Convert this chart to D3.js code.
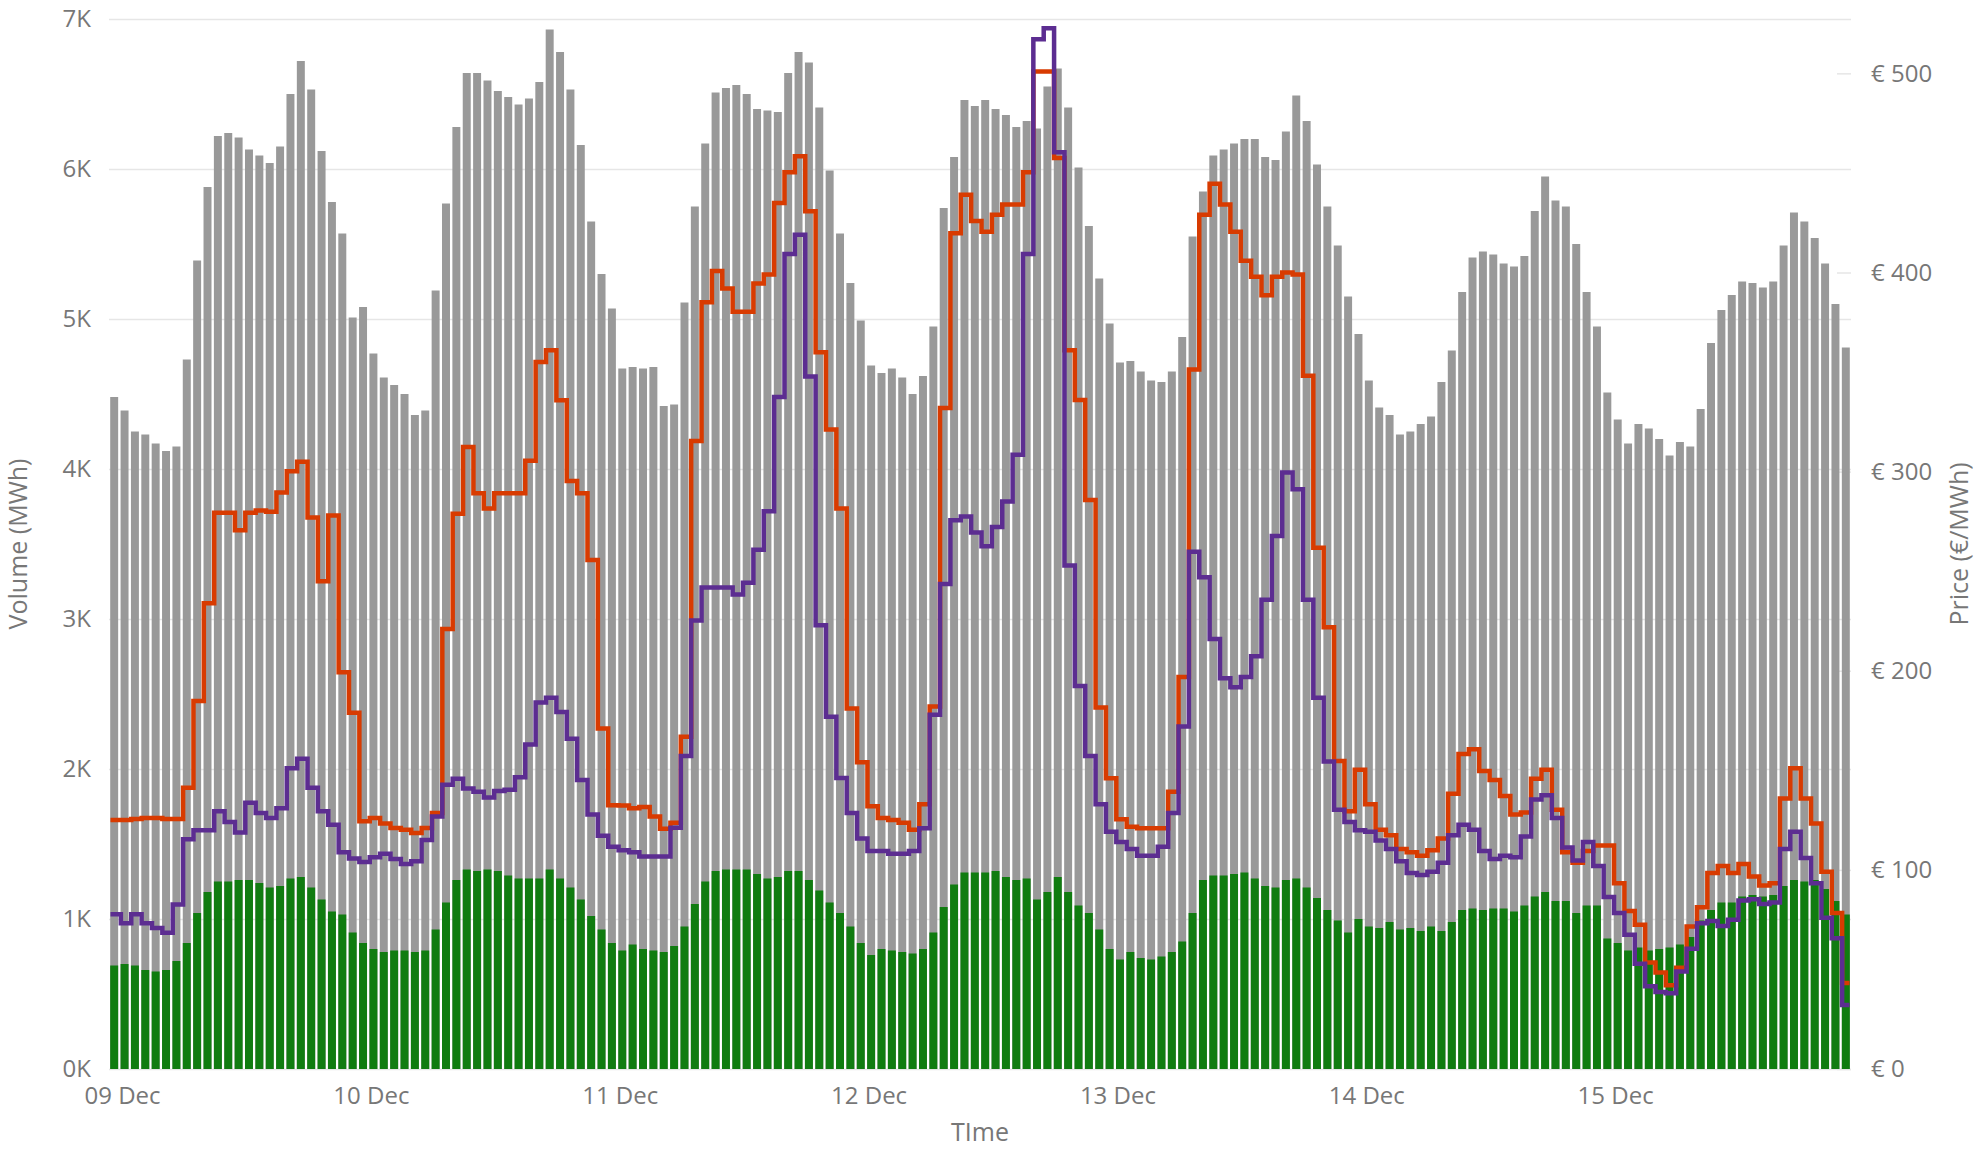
<!DOCTYPE html>
<html>
<head>
<meta charset="utf-8">
<script src="https://cdn.jsdelivr.net/npm/d3@7"></script>
<style>
  html, body { margin: 0; padding: 0; background: #fff; }
  svg { display: block; font-family: "Open Sans", "Noto Sans", sans-serif; }
</style>
</head>
<body>
<svg id="chart" width="1977" height="1150"></svg>
<script>
// ---------------- DATA ----------------
const dayLabels = ["09 Dec", "10 Dec", "11 Dec", "12 Dec", "13 Dec", "14 Dec", "15 Dec"];
const volumeTickLabels = ["0K", "1K", "2K", "3K", "4K", "5K", "6K", "7K"];
const volumeTickValues = [0, 1000, 2000, 3000, 4000, 5000, 6000, 7000];
const priceTickValues = [0, 100, 200, 300, 400, 500];
const priceTickLabels = ["€ 0", "€ 100", "€ 200", "€ 300", "€ 400", "€ 500"];

// hourly total volume (MWh) – grey bars
const volumeTotal = [
  4480, 4390, 4250, 4230, 4170, 4120, 4150, 4730, 5390, 5880, 6220, 6240, 6210, 6130, 6090, 6040, 6150, 6500, 6720, 6530, 6120, 5780, 5570, 5010,
  5080, 4770, 4610, 4560, 4500, 4360, 4390, 5190, 5770, 6280, 6640, 6640, 6590, 6520, 6480, 6430, 6470, 6580, 6930, 6780, 6530, 6160, 5650, 5300,
  5070, 4670, 4680, 4670, 4680, 4420, 4430, 5110, 5750, 6170, 6510, 6540, 6560, 6500, 6400, 6390, 6380, 6640, 6780, 6710, 6410, 5990, 5570, 5240,
  4990, 4690, 4640, 4670, 4610, 4500, 4620, 4950, 5740, 6080, 6460, 6420, 6460, 6400, 6360, 6280, 6320, 6270, 6550, 6670, 6410, 6010, 5620, 5270,
  4970, 4710, 4720, 4650, 4590, 4580, 4650, 4880, 5550, 5850, 6090, 6130, 6170, 6200, 6200, 6080, 6060, 6250, 6490, 6320, 6030, 5750, 5490, 5150,
  4900, 4590, 4410, 4360, 4230, 4250, 4300, 4350, 4580, 4790, 5180, 5410, 5450, 5430, 5370, 5350, 5420, 5720, 5950, 5790, 5750, 5500, 5180, 4950,
  4510, 4330, 4170, 4300, 4270, 4200, 4090, 4180, 4150, 4400, 4840, 5060, 5160, 5250, 5240, 5210, 5250, 5490, 5710, 5650, 5540, 5370, 5100, 4810
];

// hourly green volume (MWh) – green bars
const volumeGreen = [
  690, 700, 690, 660, 650, 660, 720, 840, 1040, 1180, 1250, 1250, 1260, 1260, 1240, 1210, 1220, 1270, 1280, 1210, 1130, 1050, 1030, 910,
  840, 800, 780, 790, 790, 780, 790, 930, 1110, 1260, 1330, 1320, 1330, 1320, 1290, 1270, 1270, 1270, 1330, 1270, 1210, 1130, 1020, 930,
  840, 790, 830, 800, 790, 780, 820, 950, 1100, 1250, 1320, 1330, 1330, 1330, 1300, 1270, 1280, 1320, 1320, 1260, 1190, 1110, 1040, 950,
  840, 760, 800, 790, 780, 770, 800, 910, 1080, 1230, 1310, 1310, 1310, 1320, 1280, 1260, 1270, 1130, 1180, 1280, 1180, 1090, 1040, 930,
  800, 730, 780, 740, 730, 750, 780, 850, 1040, 1260, 1290, 1290, 1300, 1310, 1270, 1220, 1210, 1260, 1270, 1210, 1140, 1060, 990, 910,
  1000, 950, 940, 980, 930, 940, 920, 950, 920, 980, 1060, 1070, 1060, 1070, 1070, 1050, 1090, 1150, 1180, 1120, 1120, 1040, 1090, 1090,
  870, 840, 790, 810, 790, 800, 810, 830, 880, 990, 1060, 1110, 1110, 1150, 1160, 1150, 1160, 1220, 1260, 1250, 1260, 1200, 1120, 1030
];

// hourly price A (€/MWh) – orange step line
const priceOrange = [
  125, 125, 125.5, 126, 126, 125.5, 125.5, 141.3, 184.8, 233.9, 279.4, 279.4, 270.5, 279.4, 280.5, 279.8, 289.5, 300.2, 305, 277, 245, 278, 199.3, 178.9,
  124.4, 126, 123.3, 121, 120.2, 118.5, 121, 128.5, 221, 278.8, 312.3, 289.1, 281.5, 289.1, 289.1, 289.1, 305.4, 355.1, 361, 335.8, 295.3, 289.1, 255.6, 171,
  132.5, 132.3, 131, 131.6, 126.8, 120.6, 123.7, 166.8, 315.4, 385.1, 400.7, 392, 380.3, 380.3, 394.5, 399, 434.9, 450.4, 458.4, 430.7, 359.9, 321.2, 281.5, 181,
  154, 132, 126.1, 125, 123.7, 120.2, 133, 182, 332, 419.7, 439, 425.9, 420.4, 429, 434.2, 434.2, 450.4, 500.9, 500.9, 457.5, 361, 336, 285.7, 181.5,
  146, 125.4, 121.6, 120.9, 120.9, 120.9, 139.2, 196.9, 351.3, 429, 444.6, 434.2, 420.4, 405.9, 397.9, 388.6, 397.9, 400, 399, 348.2, 261.8, 221.8, 154.7, 129.5,
  150.3, 133, 120.2, 117.4, 110.5, 108.8, 107.1, 109.8, 115.7, 138.2, 158.2, 160.6, 149.6, 145.1, 137.1, 127.8, 128.8, 145.8, 150.3, 130.2, 108.8, 103.6, 109.5, 112.3,
  112.3, 93.3, 79.4, 72.5, 53.5, 48.4, 42.1, 50.8, 71.5, 81.2, 98.4, 101.9, 98.4, 102.9, 96.7, 92.2, 93.3, 135.8, 151, 135.8, 123.3, 99.1, 78.4, 43.2
];

// hourly price B (€/MWh) – purple step line
const pricePurple = [
  77.7, 73.2, 77.7, 73.2, 70.8, 68.4, 82.6, 115.4, 119.9, 119.9, 129.5, 124, 118.8, 133.7, 128.5, 126.1, 130.9, 151, 155.8, 141.3, 129.5, 122.6, 108.8, 105.7,
  104, 106.4, 108.1, 105.4, 102.9, 104.3, 115, 126.8, 142.7, 145.8, 140.9, 139.2, 136.4, 139.6, 140.2, 146.5, 163, 184.1, 186.5, 179.3, 165.8, 145.1, 127.8, 117.1,
  111.6, 109.8, 108.8, 106.7, 106.7, 106.7, 121.2, 157.2, 225.2, 241.8, 241.8, 241.8, 238.3, 244.2, 260.8, 280.1, 337.5, 409.3, 419, 347.8, 222.8, 176.9, 146.1, 128.5,
  115.7, 109.5, 109.5, 108.1, 108.1, 109.5, 120.9, 177.9, 243.5, 275.6, 277.4, 269.4, 262.5, 272.2, 285, 308.5, 409.3, 517.1, 522.6, 460.4, 252.8, 192.4, 157.2, 133,
  119.2, 114, 110.5, 107.1, 107.1, 111.6, 128.5, 172, 259.8, 247, 215.9, 196.2, 191.7, 196.9, 207.3, 235.6, 267.7, 299.5, 291.2, 235.6, 186.5, 154.4, 130.2, 124,
  119.9, 119.2, 114.7, 110.5, 104.3, 98.4, 97.4, 99.1, 103.6, 117.4, 122.6, 120.2, 109.5, 105.4, 107.1, 106.4, 116.8, 135.4, 137.5, 126.1, 111.2, 104.7, 114, 101.9,
  86.4, 78.4, 67.4, 52.8, 41.5, 38.7, 38, 49, 60.4, 73.2, 74.3, 71.8, 75, 84.6, 85.3, 82.9, 83.6, 110.5, 119.2, 106, 93.3, 76, 65.6, 32.1
];

// ---------------- DRAWING ----------------
(function draw() {
  const W = 1977, H = 1150;
  const pL = 109, pR = 1851, pT = 19, pB = 1069;
  const colors = { grey: "#999999", green: "#107C10", orange: "#D83B01", purple: "#5C2D91", grid: "#e6e6e6", text: "#777777" };

  const start = new Date(2024, 11, 9, 0, 0, 0);
  const times = volumeTotal.map((_, i) => d3.timeHour.offset(start, i));
  const end = d3.timeHour.offset(start, volumeTotal.length);

  const x = d3.scaleTime().domain([start, end]).range([pL, pR]);
  const yL = d3.scaleLinear().domain([0, 7000]).range([pB, pT]);
  const yR = d3.scaleLinear().domain([0, 527.3]).range([pB, pT]);

  const svg = d3.select("#chart");
  svg.append("rect").attr("width", W).attr("height", H).attr("fill", "#fff");

  // volume gridlines
  const grid = svg.append("g").attr("transform", `translate(${pL},0)`)
    .call(d3.axisLeft(yL).tickValues(volumeTickValues).tickSize(-(pR - pL)).tickFormat(""));
  grid.select(".domain").remove();
  grid.selectAll("line").attr("stroke", colors.grid).attr("stroke-width", 1.5);

  // small price ticks inside the right edge
  const pticks = svg.append("g").attr("transform", `translate(${pR},0)`)
    .call(d3.axisLeft(yR).tickValues(priceTickValues).tickSize(14).tickFormat(""));
  pticks.select(".domain").remove();
  pticks.selectAll("line").attr("stroke", colors.grid).attr("stroke-width", 1.5);

  // bars
  const gap = 1.2;
  const bw = i => x(d3.timeHour.offset(times[i], 1)) - x(times[i]) - 2 * gap;

  svg.append("g").selectAll("rect").data(volumeTotal).join("rect")
    .attr("x", (d, i) => x(times[i]) + gap)
    .attr("width", (d, i) => bw(i))
    .attr("y", d => yL(d))
    .attr("height", d => yL(0) - yL(d))
    .attr("fill", colors.grey);

  svg.append("g").selectAll("rect").data(volumeGreen).join("rect")
    .attr("x", (d, i) => x(times[i]) + gap)
    .attr("width", (d, i) => bw(i))
    .attr("y", d => yL(d))
    .attr("height", d => yL(0) - yL(d))
    .attr("fill", colors.green);

  // step lines
  function stepPoints(arr) {
    const pts = arr.map((v, i) => [x(times[i]) + 1.5, yR(v)]);
    pts.push([x(end) - 1.5, yR(arr[arr.length - 1])]);
    return pts;
  }
  const line = d3.line().curve(d3.curveStepAfter);

  svg.append("path").attr("d", line(stepPoints(priceOrange)))
    .attr("fill", "none").attr("stroke", colors.orange).attr("stroke-width", 4.5)
    .attr("stroke-linejoin", "miter");
  svg.append("path").attr("d", line(stepPoints(pricePurple)))
    .attr("fill", "none").attr("stroke", colors.purple).attr("stroke-width", 4.5)
    .attr("stroke-linejoin", "miter");

  // left axis
  const ax = svg.append("g").attr("transform", `translate(${pL},0)`)
    .call(d3.axisLeft(yL).tickValues(volumeTickValues).tickSize(0).tickPadding(18)
      .tickFormat((d, i) => volumeTickLabels[i]));
  ax.select(".domain").remove();
  ax.selectAll("text").attr("fill", colors.text).attr("font-size", 24).attr("font-family", "Open Sans");

  // right axis
  const ar = svg.append("g").attr("transform", `translate(${pR},0)`)
    .call(d3.axisRight(yR).tickValues(priceTickValues).tickSize(0).tickPadding(20)
      .tickFormat((d, i) => priceTickLabels[i]));
  ar.select(".domain").remove();
  ar.selectAll("text").attr("fill", colors.text).attr("font-size", 24).attr("font-family", "Open Sans");

  // bottom axis
  const dayTicks = dayLabels.map((_, i) => d3.timeDay.offset(start, i));
  const abx = svg.append("g").attr("transform", `translate(0,${pB})`)
    .call(d3.axisBottom(x).tickValues(dayTicks).tickSize(0).tickPadding(18)
      .tickFormat((d, i) => dayLabels[i]));
  abx.select(".domain").remove();
  abx.selectAll("text").attr("fill", colors.text).attr("font-size", 24).attr("font-family", "Open Sans")
    .attr("dx", 13);

  // axis titles
  svg.append("text").attr("transform", `translate(17,${(pT + pB) / 2}) rotate(-90)`)
    .attr("text-anchor", "middle").attr("dominant-baseline", "central")
    .attr("font-size", 25).attr("fill", colors.text).text("Volume (MWh)");
  svg.append("text").attr("transform", `translate(1958,${(pT + pB) / 2}) rotate(-90)`)
    .attr("text-anchor", "middle").attr("dominant-baseline", "central")
    .attr("font-size", 25).attr("fill", colors.text).text("Price (€/MWh)");
  svg.append("text").attr("x", (pL + pR) / 2).attr("y", 1141)
    .attr("text-anchor", "middle").attr("font-size", 25).attr("fill", colors.text).text("TIme");
})();
</script>
</body>
</html>
